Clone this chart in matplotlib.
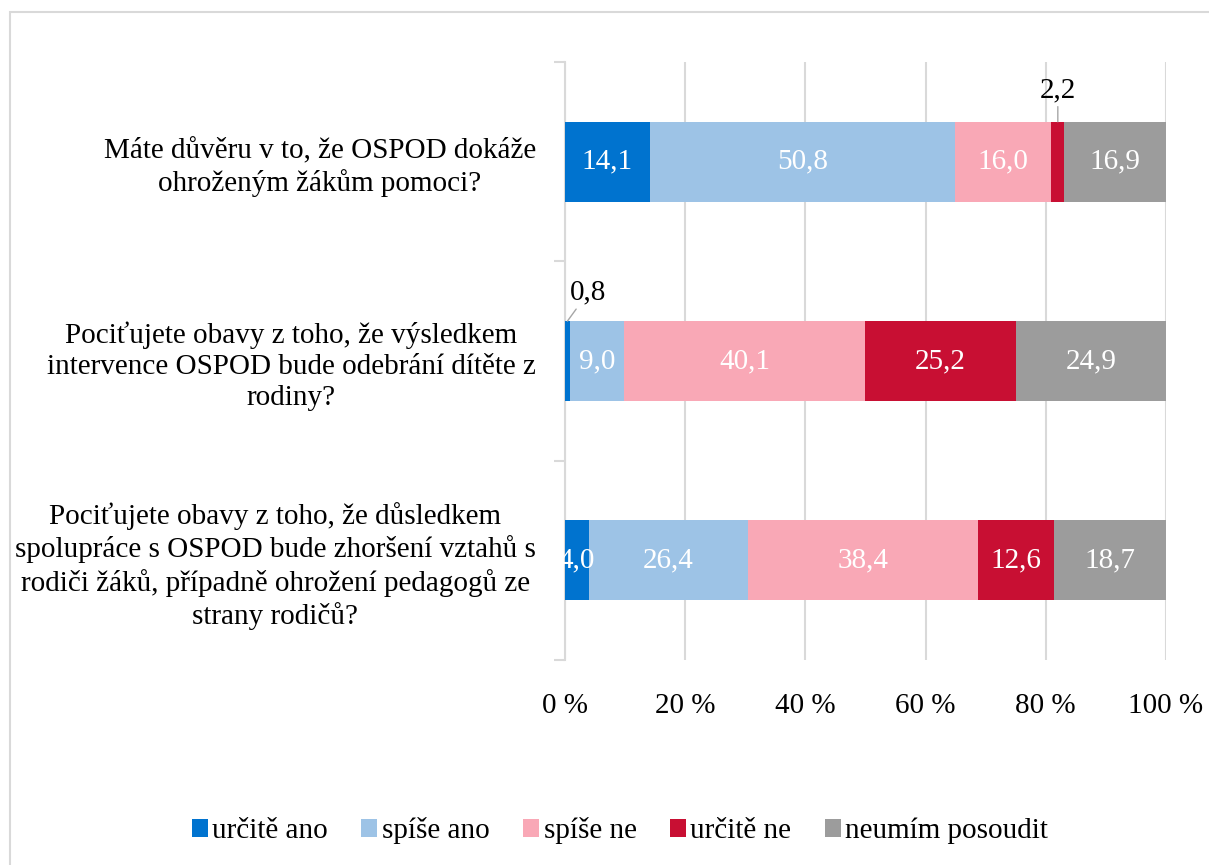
import matplotlib
matplotlib.use("Agg")
import matplotlib.pyplot as plt
import numpy as np
from matplotlib.patches import Rectangle

plt.rcParams['font.family'] = ['Liberation Serif', 'DejaVu Serif']

questions = [
    "Máte důvěru v to, že OSPOD dokáže\nohroženým žákům pomoci?",
    "Pociťujete obavy z toho, že výsledkem\nintervence OSPOD bude odebrání dítěte z\nrodiny?",
    "Pociťujete obavy z toho, že důsledkem\nspolupráce s OSPOD bude zhoršení vztahů s\nrodiči žáků, případně ohrožení pedagogů ze\nstrany rodičů?",
]
series = ["určitě ano", "spíše ano", "spíše ne", "určitě ne", "neumím posoudit"]
colors = ["#0073CF", "#9DC3E6", "#F9A8B6", "#C80F33", "#9C9C9C"]
values = {
    "určitě ano": [14.1, 0.8, 4.0],
    "spíše ano": [50.8, 9.0, 26.4],
    "spíše ne": [16.0, 40.1, 38.4],
    "určitě ne": [2.2, 25.2, 12.6],
    "neumím posoudit": [16.9, 24.9, 18.7],
}
xticks = [0, 20, 40, 60, 80, 100]
xticklabels = ["0 %", "20 %", "40 %", "60 %", "80 %", "100 %"]

fs = 21
fig = plt.figure(figsize=(12.09, 8.65), dpi=100)
# chart area border
fig.patches.append(Rectangle((10 / 1209, -0.1), 1.2, 0.1 + (865 - 12) / 865,
                             transform=fig.transFigure, fill=False,
                             edgecolor="#D9D9D9", linewidth=1.5))
ax = fig.add_axes([565 / 1209, 1 - 660 / 865, 601 / 1209, 598 / 865])

y = np.arange(len(questions))
left = np.zeros(len(questions))
for name, col in zip(series, colors):
    vals = np.array(values[name])
    ax.barh(y, vals, left=left, height=0.4, color=col, label=name, zorder=3)
    for i, v in enumerate(vals):
        if v < 3:
            continue
        ax.text(left[i] + v / 2, y[i], f"{v:.1f}".replace(".", ","),
                ha="center", va="center", color="white", fontsize=fs, zorder=4)
    left += vals

# small segments labelled outside with leader lines
v = values["určitě ne"][0]
x0 = sum(values[s][0] for s in series[:3]) + v / 2
ax.annotate(f"{v:.1f}".replace(".", ","), xy=(x0, -0.2), xytext=(x0, -0.29),
            ha="center", va="bottom", fontsize=fs,
            arrowprops=dict(arrowstyle="-", color="#A6A6A6", lw=1, shrinkA=0, shrinkB=0))
v = values["určitě ano"][1]
ax.annotate(f"{v:.1f}".replace(".", ","), xy=(v / 2, 0.8), xytext=(3.9, 0.72),
            ha="center", va="bottom", fontsize=fs,
            arrowprops=dict(arrowstyle="-", color="#A6A6A6", lw=1, shrinkA=1, shrinkB=0))

ax.set_xlim(0, 100)
ax.set_ylim(2.5, -0.5)
ax.set_xticks(xticks)
ax.set_xticklabels(xticklabels, fontsize=fs)
ax.set_yticks(y)
ax.set_yticklabels(questions, fontsize=fs, multialignment="center", linespacing=1.25)
ax.set_yticks([-0.5, 0.5, 1.5, 2.5], minor=True)
ax.tick_params(axis="y", which="major", length=0, pad=21)
ax.tick_params(axis="y", which="minor", length=8, color="#D9D9D9", width=1.5)
ax.tick_params(axis="x", length=0, pad=24)
ax.grid(axis="x", color="#D9D9D9", linewidth=1.5, zorder=0)
for s in ["top", "right", "bottom"]:
    ax.spines[s].set_visible(False)
ax.spines["left"].set_color("#D9D9D9")
ax.spines["left"].set_linewidth(1.5)

handles, labels = ax.get_legend_handles_labels()
fig.legend(handles, labels, loc="center", bbox_to_anchor=(620 / 1209, 1 - 831 / 865),
           ncol=5, frameon=False, fontsize=fs, handlelength=0.55, handleheight=0.55,
           handletextpad=0.15, columnspacing=1.15)

fig.savefig("out.png", dpi=100)
